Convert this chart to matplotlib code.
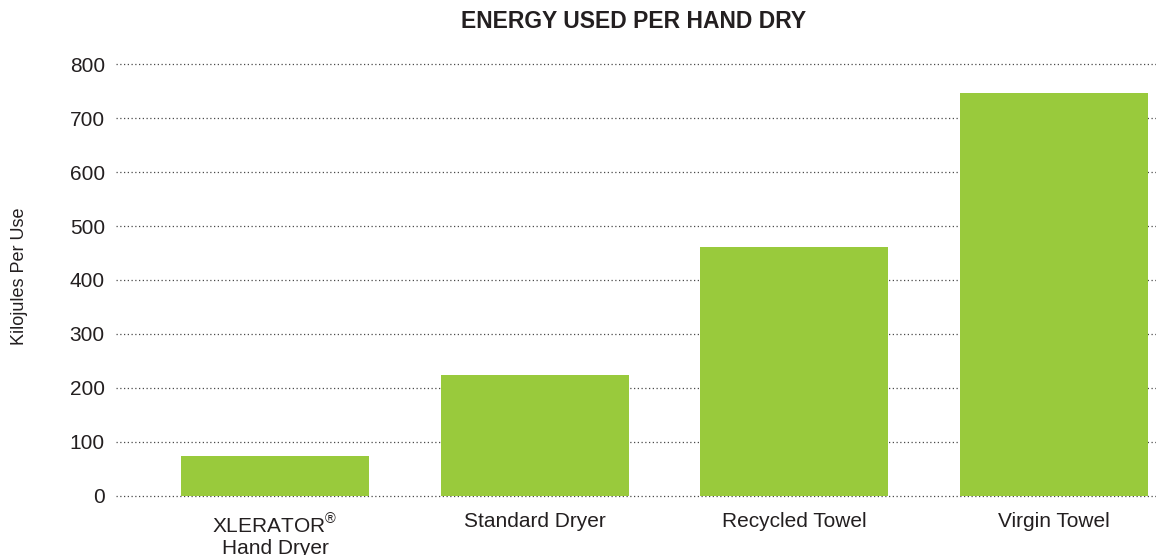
import matplotlib
matplotlib.use("Agg")
import matplotlib.pyplot as plt

# =========================
# DATA
# =========================

categories = ["XLERATOR$^{\\mathrm{®}}$\nHand Dryer", "Standard Dryer", "Recycled Towel", "Virgin Towel"]
kilojoules = [73, 224, 462, 747]
yticks = [0, 100, 200, 300, 400, 500, 600, 700, 800]

# =========================
# STYLE
# =========================

plt.rcParams["font.family"] = ["Liberation Sans", "DejaVu Sans"]
plt.rcParams["mathtext.fontset"] = "custom"
plt.rcParams["mathtext.rm"] = "Liberation Sans"
text_color = "#231F20"
bar_color = "#99CA3C"

fig = plt.figure(figsize=(11.56, 5.55), dpi=100)
ax = fig.add_axes([0.1003, 0.1072, 0.8997, 0.7766])

x = range(len(categories))
ax.bar(x, kilojoules, width=0.725, color=bar_color, zorder=3)

ax.set_xlim(-0.613, 3.393)
ax.set_ylim(0, 800)
ax.set_yticks(yticks)
ax.set_xticks(list(x))
ax.set_xticklabels(categories, linespacing=1.2)

# Grid
for yv in yticks:
    ax.axhline(yv, color="#4a4a4a", linestyle=(0, (1, 2)), linewidth=0.9,
               zorder=1, clip_on=False)

for s in ax.spines.values():
    s.set_visible(False)

ax.tick_params(axis="y", length=0, pad=8, labelsize=15, labelcolor=text_color)
ax.tick_params(axis="x", length=0, pad=12, labelsize=15, labelcolor=text_color)

fig.text(0.0165, 0.503, "Kilojules Per Use", rotation=90, ha="center", va="center",
         fontsize=13, color=text_color)

fig.text(0.548, 0.962, "ENERGY USED PER HAND DRY", ha="center", va="center",
         fontsize=16.5, fontweight="bold", color=text_color)

fig.savefig("out.png", dpi=100)
